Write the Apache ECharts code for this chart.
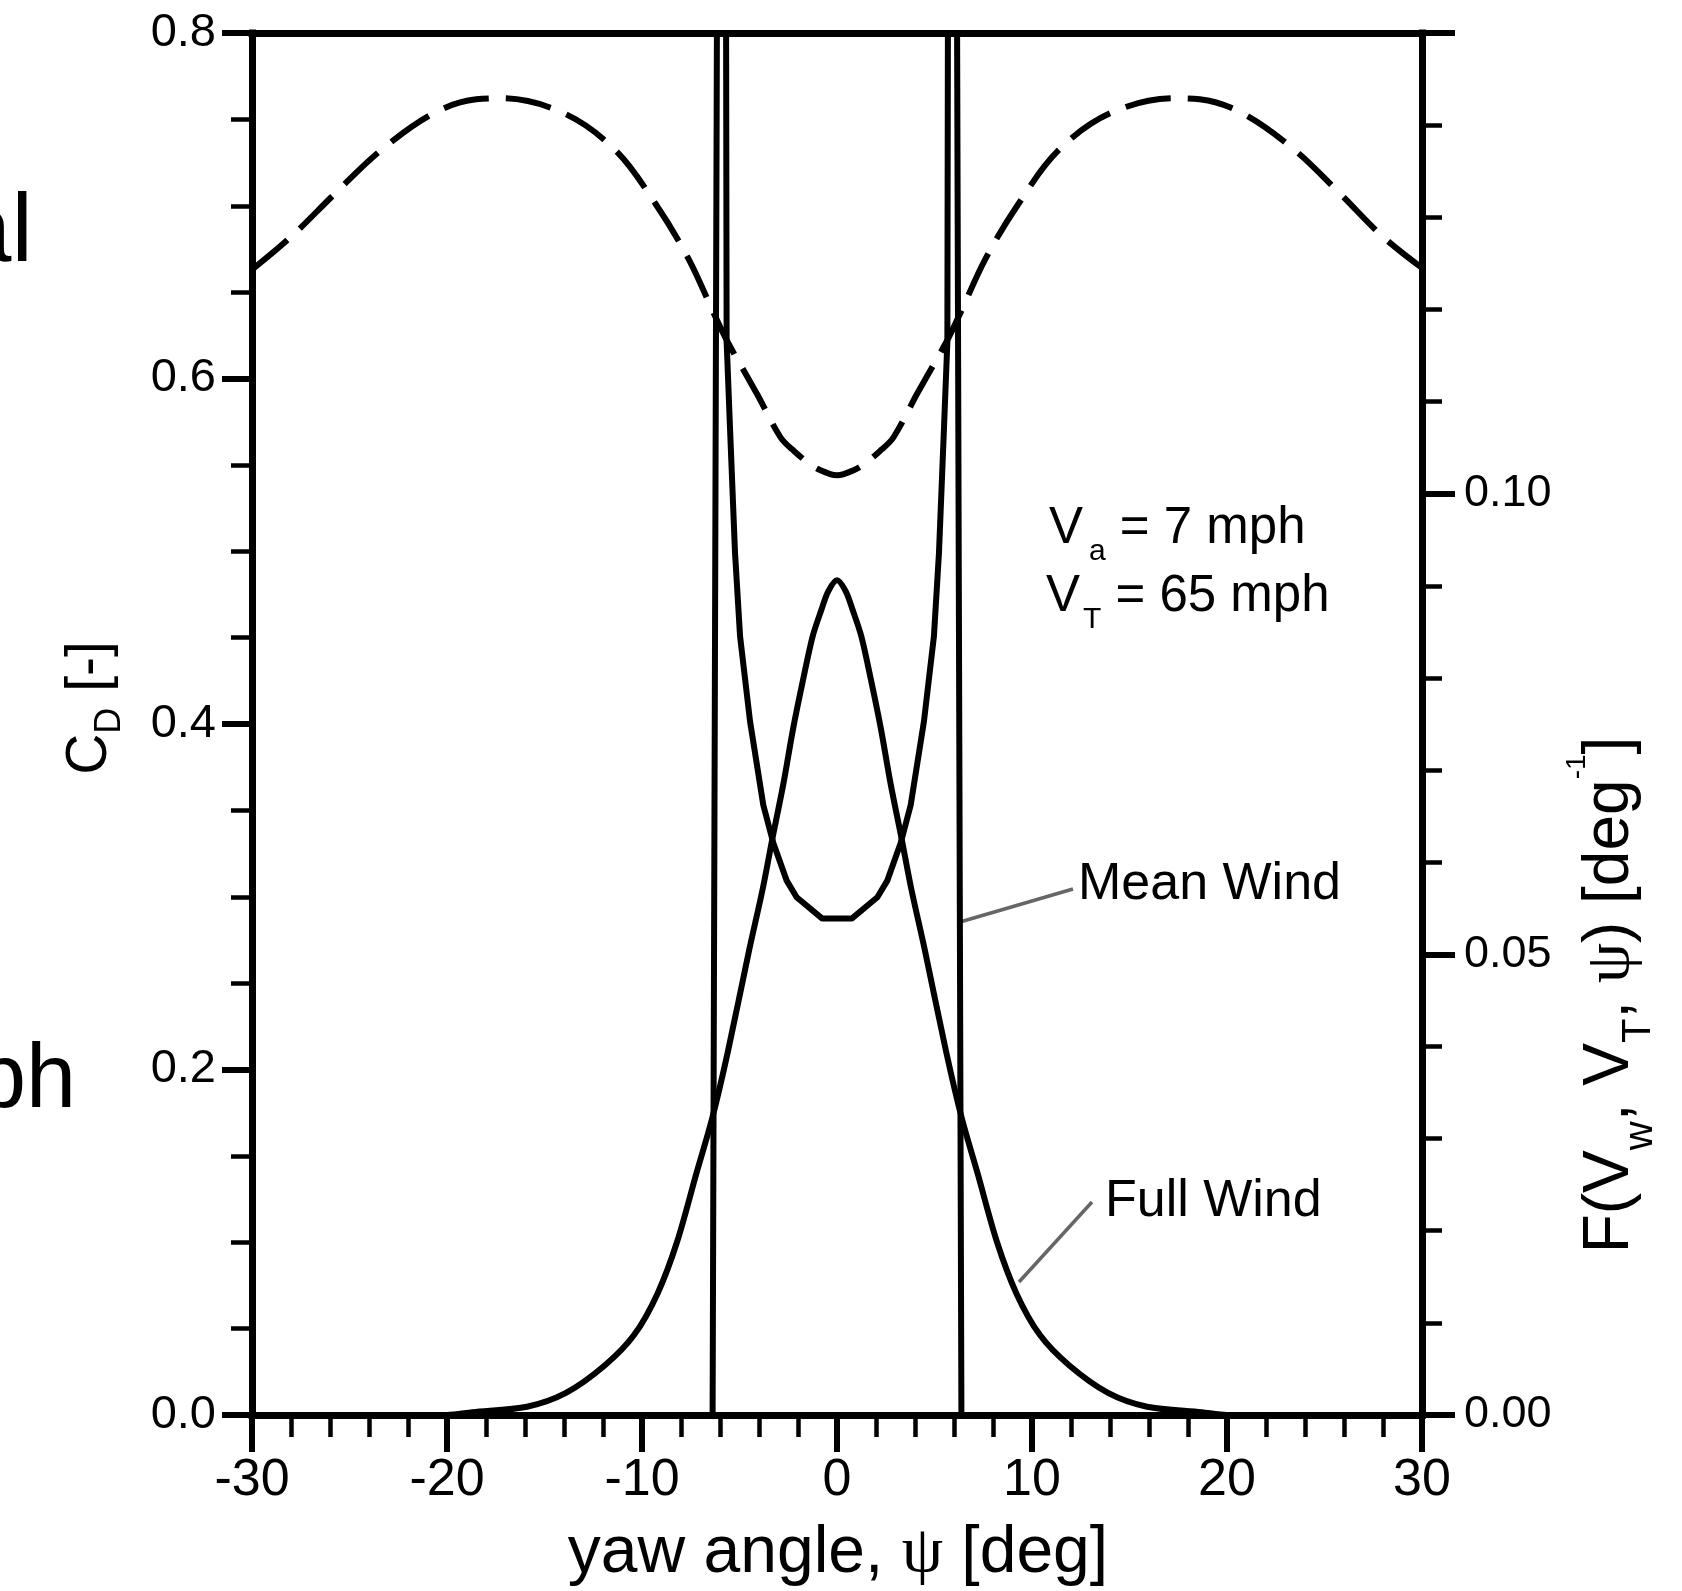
<!DOCTYPE html>
<html>
<head>
<meta charset="utf-8">
<script src="https://cdn.jsdelivr.net/npm/echarts@6/dist/echarts.min.js"></script>
<style>html,body{margin:0;padding:0;background:#fff}#c{width:1682px;height:1591px}</style>
</head>
<body>
<div id="c"></div>
<script>
// ---- data ----
// Drag coefficient C_D (left axis, dashed)
const cdX = [-30, -28, -25.75, -23.4, -20.7, -18.5, -17.2, -14, -11.35, -9.3, -7.6, -6.25, -5.6, -4.6, -4.1, -2.9, -2.3, -1.2, -0.3, 0,
             0.3, 1.2, 2.3, 2.9, 4.1, 4.6, 5.6, 6.25, 7.6, 9.3, 11.35, 14, 17.3, 18.6, 20.8, 23.5, 25.8, 28, 30];
const cdY = [0.663, 0.682, 0.707, 0.732, 0.7535, 0.7616, 0.7622, 0.7535, 0.732, 0.701, 0.669, 0.636, 0.621, 0.601, 0.591, 0.566, 0.559, 0.549, 0.5445, 0.544,
             0.5445, 0.549, 0.559, 0.566, 0.591, 0.601, 0.621, 0.636, 0.669, 0.701, 0.732, 0.7535, 0.7622, 0.7616, 0.7535, 0.732, 0.707, 0.682, 0.664];
// Full Wind yaw distribution (right axis)
const fullX = [-30, -20, -18.7, -15.9, -13.9, -11.9, -10.4, -9.2, -8.2, -7.2, -6.4, -5.6, -4.5, -3.8, -3.3, -2.75, -2.25, -1.75, -1.25, -0.8, -0.45, 0,
               0.45, 0.8, 1.25, 1.75, 2.25, 2.75, 3.3, 3.8, 4.5, 5.6, 6.4, 7.2, 8.2, 9.2, 10.4, 11.9, 13.9, 15.9, 18.7, 20, 30];
const fullY = [0, 0, 0.0003, 0.0009, 0.0024, 0.0054, 0.0087, 0.0132, 0.0188, 0.0263, 0.0322, 0.0394, 0.0505, 0.0572, 0.0627, 0.0685, 0.0745, 0.0797, 0.0845, 0.0874, 0.0894, 0.0906,
               0.0894, 0.0874, 0.0845, 0.0797, 0.0745, 0.0685, 0.0627, 0.0572, 0.0505, 0.0394, 0.0322, 0.0263, 0.0188, 0.0132, 0.0087, 0.0054, 0.0024, 0.0009, 0.0003, 0, 0];
// Mean Wind yaw distribution (right axis; goes off scale near +/- psi_max)
const meanX = [-30, -6.38, -6.1, -5.72, -5.66, -5.49, -5.23, -4.97, -4.46, -3.78, -3.27, -2.58, -2.07, -0.77,
               0.77, 2.07, 2.58, 3.27, 3.78, 4.46, 4.97, 5.23, 5.49, 5.66, 5.72, 6.1, 6.38, 30];
const meanY = [0, 0, 0.19, 0.19, 0.1165, 0.1073, 0.0936, 0.0845, 0.0753, 0.0662, 0.0621, 0.0580, 0.0562, 0.0539,
               0.0539, 0.0562, 0.0580, 0.0621, 0.0662, 0.0753, 0.0845, 0.0936, 0.1073, 0.1165, 0.19, 0.19, 0, 0];
// axes
const xRange = [-30, 30], xStep = 10;
const cdRange = [0, 0.8], cdStep = 0.2;
const fRange = [0, 0.15], fStep = 0.05;

// ---- helpers ----
const FONT = '"Liberation Sans", Arial, Helvetica, sans-serif';
const SERIF = '"Liberation Serif", "Times New Roman", serif';
const mctx = document.createElement('canvas').getContext('2d');
function tw(t, s, f) { mctx.font = s + 'px ' + (f || FONT); return mctx.measureText(t).width; }
function zip(a, b) { return a.map((v, i) => [v, b[i]]); }
// baseline-anchored run of text pieces (for sub/superscripts)
function run(pieces, x, y, rot, align, color) {
  let cx = 0; const kids = [];
  pieces.forEach(p => {
    cx += p.dx || 0;
    kids.push({
      type: 'text', x: cx, y: (p.dy || 0) - 0.3465 * p.s, silent: true,
      style: { text: p.t, font: p.s + 'px ' + (p.f || FONT), fill: color || '#000',
               align: 'left', verticalAlign: 'middle', textAlign: 'left', textVerticalAlign: 'middle' }
    });
    cx += tw(p.t, p.s, p.f);
  });
  if (align === 'center') kids.forEach(k => { k.x -= cx / 2; });
  return { type: 'group', x: x, y: y, rotation: rot || 0, silent: true, children: kids };
}

const chart = echarts.init(document.getElementById('c'), null, { renderer: 'canvas' });
const axisLine = { show: true, onZero: false, lineStyle: { color: '#000', width: 7, cap: 'square' } };

const option = {
  animation: false,
  backgroundColor: '#fff',
  grid: { left: 252, right: 260, top: 33, bottom: 176, containLabel: false },
  xAxis: [
    { type: 'value', min: xRange[0], max: xRange[1], interval: xStep, position: 'bottom',
      axisLine: axisLine,
      axisTick: { show: true, length: 37, lineStyle: { color: '#000', width: 6 } },
      minorTick: { show: true, splitNumber: 5, length: 22, lineStyle: { color: '#000', width: 4.5 } },
      splitLine: { show: false }, minorSplitLine: { show: false },
      axisLabel: { margin: 40, fontSize: 52, color: '#000', fontFamily: FONT } },
    { type: 'value', min: xRange[0], max: xRange[1], position: 'top',
      axisLine: axisLine, axisTick: { show: false }, axisLabel: { show: false }, splitLine: { show: false } }
  ],
  yAxis: [
    { type: 'value', min: cdRange[0], max: cdRange[1], interval: cdStep, position: 'left',
      axisLine: axisLine,
      axisTick: { show: true, length: 30, lineStyle: { color: '#000', width: 6 } },
      minorTick: { show: true, splitNumber: 4, length: 21, lineStyle: { color: '#000', width: 4.5 } },
      splitLine: { show: false }, minorSplitLine: { show: false },
      axisLabel: { margin: 36, fontSize: 47, color: '#000', fontFamily: FONT, formatter: v => v.toFixed(1) } },
    { type: 'value', min: fRange[0], max: fRange[1], interval: fStep, position: 'right',
      axisLine: axisLine,
      axisTick: { show: true, length: 33, lineStyle: { color: '#000', width: 6 } },
      minorTick: { show: true, splitNumber: 5, length: 20, lineStyle: { color: '#000', width: 4.5 } },
      splitLine: { show: false }, minorSplitLine: { show: false },
      axisLabel: { margin: 42, fontSize: 45, color: '#000', fontFamily: FONT,
                   formatter: v => (v > 0.14 ? '' : v.toFixed(2)) } }
  ],
  series: [
    { name: 'C_D', type: 'line', xAxisIndex: 0, yAxisIndex: 0, data: zip(cdX, cdY),
      symbol: 'none', smooth: 0.35, silent: true, z: 3,
      lineStyle: { color: '#000', width: 6, type: [46, 17], cap: 'butt', join: 'round' } },
    { name: 'Full Wind', type: 'line', xAxisIndex: 0, yAxisIndex: 1, data: zip(fullX, fullY),
      symbol: 'none', smooth: 0.3, silent: true, z: 3,
      lineStyle: { color: '#000', width: 6, join: 'round' } },
    { name: 'Mean Wind', type: 'line', xAxisIndex: 0, yAxisIndex: 1, data: zip(meanX, meanY),
      symbol: 'none', smooth: false, silent: true, z: 3, clip: true,
      lineStyle: { color: '#000', width: 6, join: 'round' } }
  ],
  graphic: [
    // partial text from neighbouring panel at left edge
    run([{ t: 'al', s: 96 }], -42, 268),
    run([{ t: 'ph', s: 90 }], -24, 1113),
    // x title
    run([{ t: 'yaw angle, ', s: 66 }, { t: '\u03c8', s: 66, f: SERIF }, { t: ' [deg]', s: 66 }], 838, 1577, 0, 'center'),
    // left title C_D [-]
    run([{ t: 'C', s: 57 }, { t: 'D', s: 36, dy: 13 }, { t: ' [-]', s: 57 }], 110, 708, Math.PI / 2, 'center'),
    // right title F(V_w, V_T, psi) [deg^-1]
    run([{ t: 'F(V', s: 64 }, { t: 'w', s: 40, dy: 22 }, { t: ', V', s: 64 }, { t: 'T', s: 40, dy: 20 },
         { t: ', ', s: 64 }, { t: '\u03c8', s: 64, f: SERIF }, { t: ') [deg', s: 64 }, { t: '-1', s: 28, dy: -46 },
         { t: ']', s: 64 }], 1633, 995, Math.PI / 2, 'center'),
    // annotations
    run([{ t: 'V', s: 51 }, { t: 'a', s: 30, dy: 15, dx: 6 }, { t: ' = 7 mph', s: 51 }], 1049, 547),
    run([{ t: 'V', s: 51 }, { t: 'T', s: 30, dy: 15, dx: 3 }, { t: ' = 65 mph', s: 51 }], 1046, 615),
    run([{ t: 'Mean Wind', s: 52 }], 1078, 903),
    run([{ t: 'Full Wind', s: 52 }], 1105, 1220),
    { type: 'line', silent: true, shape: { x1: 960, y1: 922, x2: 1073, y2: 889 }, style: { stroke: '#666', lineWidth: 3.5 } },
    { type: 'line', silent: true, shape: { x1: 1092, y1: 1202, x2: 1019, y2: 1282 }, style: { stroke: '#666', lineWidth: 3.5 } }
  ]
};
chart.setOption(option);
</script>
</body>
</html>
